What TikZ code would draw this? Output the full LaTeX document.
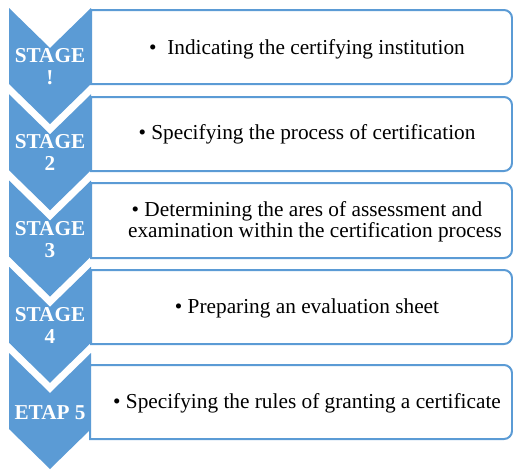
\documentclass[tikz,border=0pt]{standalone}
\usepackage{fontspec}
\setmainfont{Liberation Serif}
\definecolor{sablue}{HTML}{5B9BD5}
\begin{document}
\begin{tikzpicture}[x=1pt,y=-1pt,
  chev/.style={fill=sablue,draw=none},
  bbox/.style={draw=sablue,line width=2pt,fill=white},
  stlabel/.style={text=white,font=\fontsize{21.2}{22}\selectfont\bfseries,align=center,anchor=base,inner sep=0pt},
  body/.style={font=\fontsize{21.3}{21}\selectfont,align=center,anchor=base,inner sep=0pt}]
\useasboundingbox (0,0) rectangle (513,469);
% chevrons
\foreach \t [count=\k] in {8,94.25,180.5,266.75,353}{
  \fill[chev] (9,\t) -- (50,\t+40) -- (91,\t) -- (91,\t+76) -- (50,\t+116) -- (9,\t+76) -- cycle;
}
% boxes
\foreach \a/\b/\l in {10/84/91,97/171/91,183/258/91,270/344/91,365/439/90}{
  \draw[bbox] (\l,\a) -- (504,\a) arc[start angle=90,end angle=0,x radius=8,y radius=-8]
     -- (512,\b-8) arc[start angle=0,end angle=-90,x radius=8,y radius=-8] -- (\l,\b) -- cycle;
}
% stage labels (anchor = baseline of last line)
\node[stlabel] (s1) at (50,84.5) {STAGE\\!};
\node[stlabel] (s2) at (50,170.5) {STAGE\\2};
\node[stlabel] (s3) at (50,257) {STAGE\\3};
\node[stlabel] (s4) at (50,343) {STAGE\\4};
\node[stlabel] (s5) at (50,419) {ETAP 5};
% body texts
\node[body] (t1) at (307,54) {\textbullet\ \ Indicating the certifying institution};
\node[body] (t2) at (307,139) {\textbullet\ Specifying the process of certification};
\node[body] (t3a) at (307,216) {\textbullet\ Determining the ares of assessment and};
\node[body] (t3b) at (315,237) {examination within the certification process};
\node[body] (t4) at (307,313) {\textbullet\ Preparing an evaluation sheet};
\node[body] (t5) at (307,408) {\textbullet\ Specifying the rules of granting a certificate};
\end{tikzpicture}
\end{document}
